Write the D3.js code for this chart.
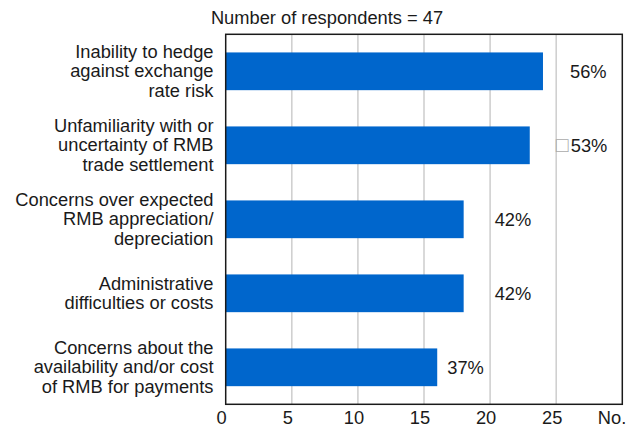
<!DOCTYPE html>
<html><head><meta charset="utf-8">
<script src="https://cdn.jsdelivr.net/npm/d3@7"></script>
<style>
body{margin:0;background:#fff;}
svg{display:block;font-family:"Liberation Sans",Arial,sans-serif;}
</style></head>
<body>
<script>
const categories = [
  ["Inability to hedge","against exchange","rate risk"],
  ["Unfamiliarity with or","uncertainty of RMB","trade settlement"],
  ["Concerns over expected","RMB appreciation/","depreciation"],
  ["Administrative","difficulties or costs"],
  ["Concerns about the","availability and/or cost","of RMB for payments"]
];
const values = [24, 23, 18, 18, 16];
const pctLabels = ["56%", "\u25A153%", "42%", "42%", "37%"];
const labelGap = [27, 28, 31, 31, 10];
const xTicks = [0, 5, 10, 15, 20, 25];
const title = "Number of respondents = 47";
const axisUnit = "No.";

const W = 632, H = 426, FS = 18.3;
const m = {left: 225.7, right: 622.3, top: 34.3, bottom: 404.3};
const svg = d3.select("body").append("svg").attr("width", W).attr("height", H);

const x = d3.scaleLinear().domain([0, 30]).range([m.left, m.right]);
const y = d3.scaleBand().domain(d3.range(categories.length)).range([m.top, m.bottom]).paddingInner(0.49).paddingOuter(0.245);

// gridlines
svg.append("g").selectAll("line").data(xTicks.filter(d => d > 0)).join("line")
  .attr("x1", d => x(d)).attr("x2", d => x(d))
  .attr("y1", m.top).attr("y2", m.bottom)
  .attr("stroke", "#d0d0d0").attr("stroke-width", 1.6);

// bars
svg.append("g").selectAll("rect").data(values).join("rect")
  .attr("x", x(0)).attr("y", (d, i) => y(i))
  .attr("width", d => x(d) - x(0)).attr("height", y.bandwidth())
  .attr("fill", "#0066CC");

// frame
svg.append("rect").attr("x", m.left).attr("y", m.top)
  .attr("width", m.right - m.left).attr("height", m.bottom - m.top)
  .attr("fill", "none").attr("stroke", "#1a1a1a").attr("stroke-width", 1.5);

// value labels
svg.append("g").selectAll("text").data(values).join("text")
  .attr("x", (d, i) => x(d) + labelGap[i])
  .attr("y", (d, i) => y(i) + y.bandwidth() / 2 + 6.5)
  .attr("font-size", FS).attr("fill", "#1a1a1a")
  .each(function(d, i) {
    const t = d3.select(this);
    const s = pctLabels[i];
    const x0 = x(d) + labelGap[i];
    if (s.startsWith("\u25A1")) {
      t.append("tspan").attr("fill", "#aaa").attr("font-size", 21).attr("x", x0 - 2).text("\u25A1");
      t.append("tspan").attr("x", x0 + 13).text(s.slice(1));
    } else t.text(s);
  });

// category labels
const LH = 19.2;
const cat = svg.append("g").selectAll("text").data(categories).join("text")
  .attr("text-anchor", "end").attr("font-size", FS).attr("fill", "#1a1a1a")
  .attr("x", 213.5)
  .attr("y", (d, i) => y(i) + y.bandwidth() / 2 + 6 - (d.length - 1) * LH / 2);
cat.each(function(d) {
  d3.select(this).selectAll("tspan").data(d).join("tspan")
    .attr("x", 213.5).attr("dy", (s, j) => j === 0 ? 0 : LH).text(s => s);
});

// x axis tick labels
svg.append("g").selectAll("text").data(xTicks).join("text")
  .attr("x", d => x(d) - 4).attr("y", 423.5)
  .attr("text-anchor", "middle").attr("font-size", FS).attr("fill", "#1a1a1a")
  .text(d => d);
svg.append("text").attr("x", 612).attr("y", 423.5).attr("text-anchor", "middle")
  .attr("font-size", FS).attr("fill", "#1a1a1a").text(axisUnit);

// title
svg.append("text").attr("x", 327).attr("y", 23.5).attr("text-anchor", "middle")
  .attr("font-size", FS).attr("fill", "#1a1a1a").text(title);
</script>
</body></html>
